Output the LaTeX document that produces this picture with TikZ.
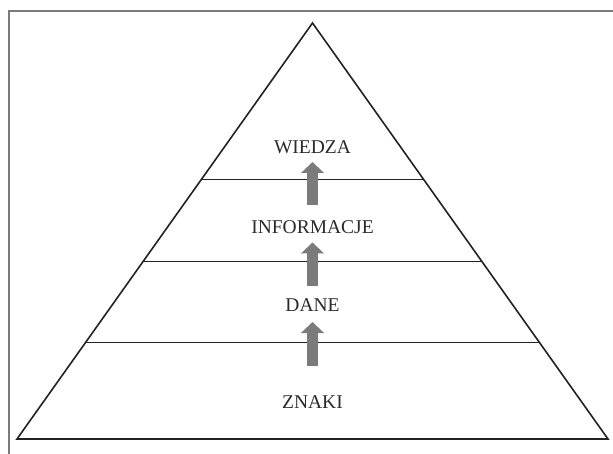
\documentclass[tikz,border=0pt]{standalone}
\usepackage{fontspec}
\setmainfont{Liberation Serif}
\usetikzlibrary{calc,arrows.meta}
\definecolor{framegray}{HTML}{7A7A7A}
\definecolor{linek}{HTML}{222222}
\definecolor{textk}{HTML}{2A2A2A}
\definecolor{arrowgray}{HTML}{7B7B7B}
\tikzset{
  frameline/.style={draw=framegray, line width=1.6pt},
  pyr/.style={draw=linek, line width=1.6pt, line join=miter},
  layerline/.style={draw=linek, line width=1.6pt},
  lbl/.style={text=textk, font=\fontsize{19.5}{22}\selectfont, inner sep=0pt, anchor=base},
  uparrow/.style={draw=arrowgray, line width=10.5pt, line cap=butt,
    -{Triangle[width=22.5pt,length=11pt]}}
}
\begin{document}
\begin{tikzpicture}[x=1pt,y=-1pt]
\useasboundingbox (0,0) rectangle (613,454);
% frame
\draw[frameline] (9,454) -- (9,11) -- (613,11);
% pyramid
\coordinate (apex) at (312.5,23);
\coordinate (bl) at (17,439);
\coordinate (br) at (608,439);
\draw[pyr] (apex) -- (bl) -- (br) -- cycle;
% layer lines
\foreach \t/\n in {0.3762/a, 0.5733/b, 0.7680/c}{
  \coordinate (l\n) at ($(apex)!\t!(bl)$);
  \coordinate (r\n) at ($(apex)!\t!(br)$);
  \draw[layerline] (l\n) -- (r\n);
}
% labels
\node[lbl] (wiedza) at (312.5,154) {WIEDZA};
\node[lbl] (info) at (312.5,234) {INFORMACJE};
\node[lbl] (dane) at (312.5,312) {DANE};
\node[lbl] (znaki) at (312.5,408) {ZNAKI};
% arrows
\coordinate (a1s) at (312.5,205);
\coordinate (a1t) at (312.5,162);
\coordinate (a2s) at (312.5,286);
\coordinate (a2t) at (312.5,242.5);
\coordinate (a3s) at (312.5,366);
\coordinate (a3t) at (312.5,322);
\draw[uparrow] (a1s) -- (a1t);
\draw[uparrow] (a2s) -- (a2t);
\draw[uparrow] (a3s) -- (a3t);
\end{tikzpicture}
\end{document}
